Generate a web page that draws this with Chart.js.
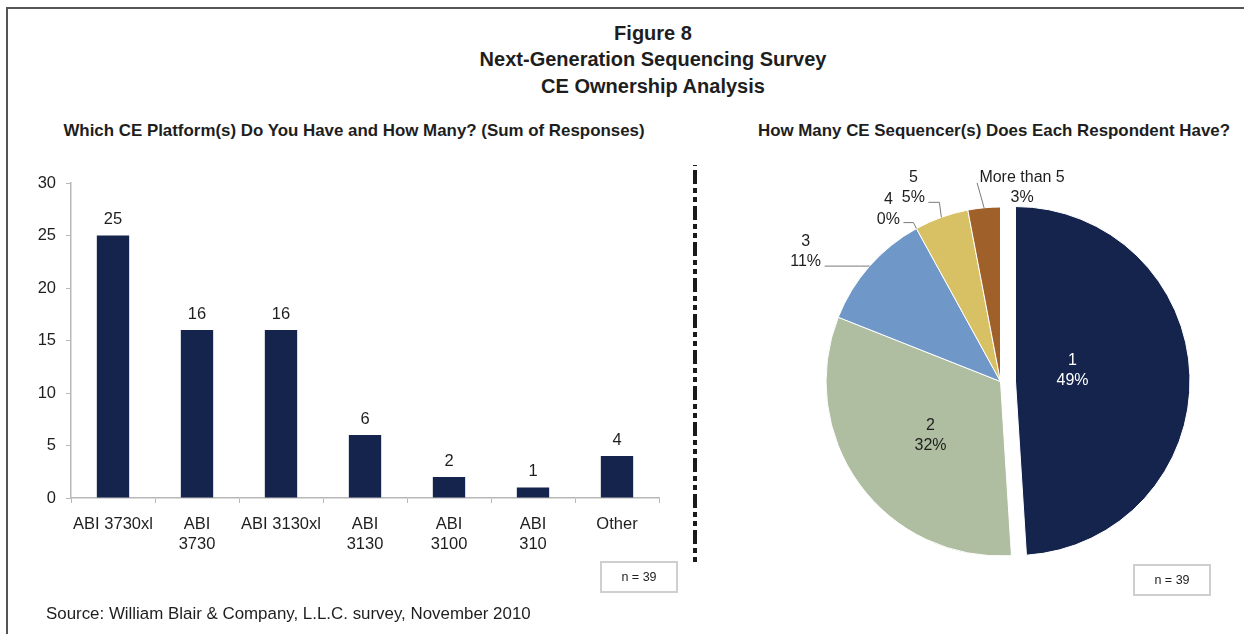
<!DOCTYPE html>
<html>
<head>
<meta charset="utf-8">
<script src="https://cdn.jsdelivr.net/npm/chart.js@4.4.0/dist/chart.umd.min.js"></script>
<style>
  body { margin: 0; width: 1244px; height: 634px; position: relative; overflow: hidden; background: #fff;
         font-family: "Liberation Sans", Arial, sans-serif; color: #1e1e1e; }
  .frame { position: absolute; left: 6px; top: 7px; width: 1260px; height: 660px;
           border-top: 2px solid #555; border-left: 2px solid #555; }
  .t { position: absolute; white-space: nowrap; transform: translate(-50%, -50%); line-height: 1; }
  .title { font-weight: bold; font-size: 20px; }
  .sub { font-weight: bold; font-size: 16.9px; }
  .src { position: absolute; left: 46px; top: 604px; font-size: 16.9px; line-height: 20px; white-space: nowrap; }
  .nbox { position: absolute; width: 74px; height: 28px; border: 2px solid #cfcfcf; box-sizing: content-box;
          font-size: 12.5px; line-height: 28px; text-align: center; }
  canvas { position: absolute; }
  svg { position: absolute; left: 0; top: 0; }
</style>
</head>
<body>
<div class="frame"></div>

<div class="t title" style="left:653px;top:33px">Figure 8</div>
<div class="t title" style="left:653px;top:59px">Next-Generation Sequencing Survey</div>
<div class="t title" style="left:653px;top:86px">CE Ownership Analysis</div>

<div class="t sub" style="left:354px;top:131px">Which CE Platform(s) Do You Have and How Many? (Sum of Responses)</div>
<div class="t sub" style="left:994px;top:131px">How Many CE Sequencer(s) Does Each Respondent Have?</div>

<canvas id="barChart" width="660" height="400" style="left:20px;top:160px"></canvas>
<canvas id="pieChart" width="441" height="443" style="left:780px;top:160px"></canvas>

<svg width="1244" height="634">
  <line x1="695" y1="165" x2="695" y2="562" stroke="#1a1a1a" stroke-width="4"
        stroke-dasharray="14 4 5 4 5 4" stroke-dashoffset="31"/>
</svg>

<div class="nbox" style="left:600px;top:561px">n = 39</div>
<div class="nbox" style="left:1133px;top:564px">n = 39</div>

<div class="src">Source: William Blair &amp; Company, L.L.C. survey, November 2010</div>

<script>
// ---- data ----
const platforms = ["ABI 3730xl", ["ABI", "3730"], "ABI 3130xl", ["ABI", "3130"], ["ABI", "3100"], ["ABI", "310"], "Other"];
const platformResponses = [25, 16, 16, 6, 2, 1, 4];
const yAxisMin = 0;
const yAxisMax = 30;
const yAxisStep = 5;

const sequencerCounts = ["1", "2", "3", "4", "5", "More than 5"];
const sequencerShares = [49, 32, 11, 0, 5, 3];

// ---- styles ----
const FONT = '"Liberation Sans", Arial, sans-serif';
const TEXT = "#1e1e1e";
const AXIS = "#b8b8b8";
const NAVY = "#14244c";
const pieColors = [NAVY, "#afbea0", "#6f98c9", "#d8c064", "#d8c064", "#a0602a"];
const explode = [15, 0, 0, 0, 0, 0];

// label placement: "in" = offset from slice centre, "out" = offset from outer edge at mid angle
const pieLabelPos = [
  { mode: "in", dx: 57, dy: -10, color: "#ffffff" },
  { mode: "in", dx: -70, dy: 54, color: TEXT },
  { mode: "out", dx: -64, dy: -15, lead: [[-45, 0], [-10, 0]] },
  { mode: "out", dx: -28, dy: -19, lead: [[-13, -6], [-3, -6]] },
  { mode: "out", dx: -28, dy: -30, lead: [[-13, -15], [-2, -15]] },
  { mode: "out", dx: 38, dy: -20, lead: [[-7, -25]] }
];

/* -------- bar chart -------- */
const barValues = {
  id: "barValues",
  afterDatasetsDraw(chart) {
    const ctx = chart.ctx;
    const meta = chart.getDatasetMeta(0);
    ctx.save();
    ctx.font = `16.5px ${FONT}`;
    ctx.fillStyle = TEXT;
    ctx.textAlign = "center";
    ctx.textBaseline = "middle";
    meta.data.forEach((bar, i) => {
      ctx.fillText(String(platformResponses[i]), bar.x, bar.y - 16);
    });
    ctx.restore();
  }
};

new Chart(document.getElementById("barChart"), {
  type: "bar",
  data: {
    labels: platforms,
    datasets: [{
      data: platformResponses,
      backgroundColor: NAVY,
      barPercentage: 0.385,
      categoryPercentage: 1
    }]
  },
  options: {
    responsive: false,
    animation: false,
    layout: { padding: { top: 23, right: 21, left: 0, bottom: 0 } },
    plugins: { legend: { display: false }, tooltip: { enabled: false } },
    scales: {
      x: {
        offset: true,
        grid: { display: true, offset: true, drawOnChartArea: false, tickLength: 5, color: AXIS },
        border: { color: AXIS, width: 1.5 },
        ticks: { color: TEXT, font: { family: FONT, size: 16.5, lineHeight: 1.2 }, padding: 12, maxRotation: 0, autoSkip: false },
        afterFit(scale) { scale.height = 62; }
      },
      y: {
        min: yAxisMin,
        max: yAxisMax,
        grid: { drawOnChartArea: false, tickLength: 5, color: AXIS },
        border: { color: AXIS, width: 1.5 },
        ticks: { stepSize: yAxisStep, color: TEXT, font: { family: FONT, size: 16.5 }, padding: 10 },
        afterFit(scale) { scale.width = 51; }
      }
    }
  },
  plugins: [barValues]
});

/* -------- pie chart -------- */
const pieExplode = {
  id: "pieExplode",
  afterDatasetsUpdate(chart) {
    chart.getDatasetMeta(0).data.forEach((arc, i) => {
      if (!explode[i]) return;
      const mid = (arc.startAngle + arc.endAngle) / 2;
      arc.x += Math.cos(mid) * explode[i];
      arc.y += Math.sin(mid) * explode[i];
    });
  }
};

const pieLabels = {
  id: "pieLabels",
  afterDatasetsDraw(chart) {
    const ctx = chart.ctx;
    ctx.save();
    ctx.font = `16px ${FONT}`;
    ctx.textAlign = "center";
    ctx.textBaseline = "middle";
    chart.getDatasetMeta(0).data.forEach((arc, i) => {
      const p = pieLabelPos[i];
      const mid = (arc.startAngle + arc.endAngle) / 2;
      let tx, ty;
      if (p.mode === "in") {
        tx = arc.x + p.dx;
        ty = arc.y + p.dy;
        ctx.fillStyle = p.color;
      } else {
        const ax = arc.x + Math.cos(mid) * arc.outerRadius;
        const ay = arc.y + Math.sin(mid) * arc.outerRadius;
        tx = ax + p.dx;
        ty = ay + p.dy;
        ctx.strokeStyle = "#7a7a7a";
        ctx.lineWidth = 1;
        ctx.beginPath();
        p.lead.forEach(([lx, ly], k) => {
          if (k === 0) ctx.moveTo(ax + lx, ay + ly);
          else ctx.lineTo(ax + lx, ay + ly);
        });
        ctx.lineTo(ax, ay);
        ctx.stroke();
        ctx.fillStyle = TEXT;
      }
      ctx.fillText(sequencerCounts[i], tx, ty - 10);
      ctx.fillText(sequencerShares[i] + "%", tx, ty + 10);
    });
    ctx.restore();
  }
};

new Chart(document.getElementById("pieChart"), {
  type: "pie",
  data: {
    labels: sequencerCounts,
    datasets: [{
      data: sequencerShares,
      backgroundColor: pieColors,
      borderColor: "#ffffff",
      borderWidth: 1
    }]
  },
  options: {
    responsive: false,
    animation: false,
    radius: 174.5,
    plugins: { legend: { display: false }, tooltip: { enabled: false } }
  },
  plugins: [pieExplode, pieLabels]
});
</script>
</body>
</html>
